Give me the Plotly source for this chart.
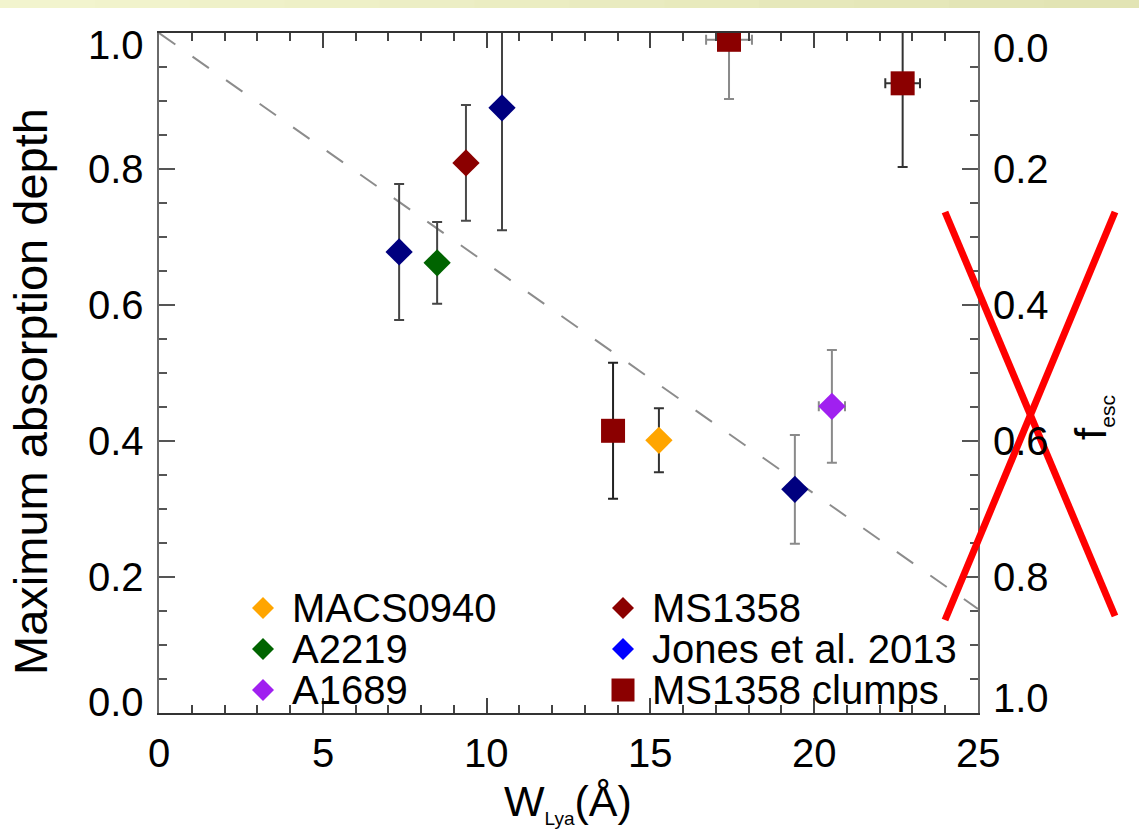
import plotly.graph_objects as go

# ---------------------------------------------------------------------
# Data: Lya equivalent width (Angstrom) vs. maximum absorption depth
# ---------------------------------------------------------------------
macs_w, macs_d, macs_err = [15.26], [0.401], [0.047]
a2219_w, a2219_d, a2219_err = [8.49], [0.662], [0.060]
a1689_w, a1689_d, a1689_err, a1689_werr = [20.54], [0.451], [0.083], [0.40]
ms1358_w, ms1358_d, ms1358_err = [9.37], [0.809], [0.085]
jones_w = [7.33, 10.47, 19.41]
jones_d = [0.678, 0.890, 0.329]
jones_err = [0.100, 0.180, 0.080]
clump_w = [13.86, 17.40, 22.70]
clump_d = [0.415, 0.990, 0.926]
clump_err = [0.100, 0.087, 0.123]
clump_werr = [0.0, 0.70, 0.53]

# dashed reference relation
fit_w = [0, 25]
fit_d = [1.0, 0.153]

# axis tick labels
x_ticks = [0, 5, 10, 15, 20, 25]
y_ticks = [0.0, 0.2, 0.4, 0.6, 0.8, 1.0]
fesc_ticks = [0.0, 0.2, 0.4, 0.6, 0.8, 1.0]

# ---------------------------------------------------------------------
# Layout geometry (pixels)
# ---------------------------------------------------------------------
FIG_W, FIG_H = 1139, 840
L, R, T, B = 159, 161, 33, 127
PW, PH = FIG_W - L - R, FIG_H - T - B
FONT = "Liberation Sans, Arial, Helvetica, sans-serif"


def px(x):
    return (x - L) / PW


def py(y):
    return 1 - (y - T) / PH


groups = [
    # name, w, d, err, werr, symbol, marker colour, legend colour, error colours
    ("MACS0940", macs_w, macs_d, macs_err, None, "diamond", "#FFA500", "#FFA500", ["#333333"]),
    ("A2219", a2219_w, a2219_d, a2219_err, None, "diamond", "#006400", "#006400", ["#444444"]),
    ("A1689", a1689_w, a1689_d, a1689_err, a1689_werr, "diamond", "#A020F0", "#A020F0", ["#8a8a8a"]),
    ("MS1358", ms1358_w, ms1358_d, ms1358_err, None, "diamond", "#8B0000", "#8B0000", ["#4a4a4a"]),
    ("Jones et al. 2013", jones_w, jones_d, jones_err, None, "diamond", "#00007F", "#0000FF",
     ["#444444", "#444444", "#8a8a8a"]),
    ("MS1358 clumps", clump_w, clump_d, clump_err, clump_werr, "square", "#8B0000", "#8B0000",
     ["#222222", "#8a8a8a", "#333333"]),
]

fig = go.Figure()

# dashed relation
fig.add_trace(go.Scatter(
    x=fit_w, y=fit_d, mode="lines",
    line=dict(color="#8c8c8c", width=2, dash="20px,21px"),
    hoverinfo="skip", showlegend=False,
))

# data points, one trace per point so each error bar keeps its own shade
for name, ws, ds, errs, werrs, sym, col, _, ecols in groups:
    for i in range(len(ws)):
        size = 24 if sym == "square" else 21
        tr = dict(
            x=[ws[i]], y=[ds[i]], mode="markers", name=name,
            marker=dict(symbol=sym, size=size, color=col, line=dict(width=0)),
            error_y=dict(type="data", array=[errs[i]], color=ecols[i],
                         thickness=2, width=5),
            showlegend=False,
        )
        if werrs is not None and werrs[i] > 0:
            tr["error_x"] = dict(type="data", array=[werrs[i]], color=ecols[i],
                                 thickness=2, width=5)
        fig.add_trace(go.Scatter(**tr))

annotations = []
shapes = []

# tick labels
for v in x_ticks:
    annotations.append(dict(x=v, y=0, xref="x", yref="paper", text=str(v),
                            showarrow=False, yshift=-40, xanchor="center",
                            yanchor="middle", font=dict(size=40)))
for v in y_ticks:
    shift = 11 if v == 0 else (-12 if v == 1 else 0)
    annotations.append(dict(x=px(146), y=v, xref="paper", yref="y",
                            text=f"{v:.1f}", showarrow=False, yshift=shift,
                            xanchor="right", yanchor="middle", font=dict(size=40)))
for v in fesc_ticks:
    shift = -15 if v == 0 else (15 if v == 1 else 0)
    annotations.append(dict(x=px(991), y=1 - v, xref="paper", yref="y",
                            text=f"{v:.1f}", showarrow=False, yshift=shift,
                            xanchor="left", yanchor="middle", font=dict(size=40)))

# axis titles
annotations.append(dict(x=px(30), y=py(392), xref="paper", yref="paper",
                        text="Maximum absorption depth", textangle=-90,
                        showarrow=False, xanchor="center", yanchor="middle",
                        font=dict(size=47)))
annotations.append(dict(x=px(568), y=py(803), xref="paper", yref="paper",
                        text="W<sub><span style='font-size:19px'>Lya</span></sub>(Å)",
                        showarrow=False, xanchor="center", yanchor="middle",
                        font=dict(size=43)))
annotations.append(dict(x=px(1092), y=py(418), xref="paper", yref="paper",
                        text="f<sub><span style='font-size:21px'>esc</span></sub>",
                        textangle=-90, showarrow=False, xanchor="center",
                        yanchor="middle", font=dict(size=44)))

# legend, two columns of three entries
leg_cols = [263, 623]
leg_rows = [608, 649, 690]
for k, (name, *_rest) in enumerate(groups):
    sym, lcol = _rest[4], _rest[6]
    cx, cy = leg_cols[k // 3], leg_rows[k % 3]
    if sym == "diamond":
        path = "M -11,0 L 0,11 L 11,0 L 0,-11 Z"
    else:
        path = "M -11.5,-11.5 L 11.5,-11.5 L 11.5,11.5 L -11.5,11.5 Z"
    shapes.append(dict(type="path", xref="paper", yref="paper",
                       xsizemode="pixel", ysizemode="pixel",
                       xanchor=px(cx), yanchor=py(cy), path=path,
                       fillcolor=lcol, line=dict(width=0), layer="above"))
    annotations.append(dict(x=px(cx + 27), y=py(cy), xref="paper", yref="paper",
                            text=name, showarrow=False, xanchor="left",
                            yanchor="middle", font=dict(size=40)))

# pale banner strip along the top edge
n_band = 12
c0, c1 = (242, 244, 206), (226, 228, 180)
for i in range(n_band):
    t = i / (n_band - 1)
    rgb = tuple(round(a + (b - a) * t) for a, b in zip(c0, c1))
    shapes.append(dict(type="rect", xref="paper", yref="paper",
                       x0=px(i * FIG_W / n_band), x1=px((i + 1) * FIG_W / n_band + 1),
                       y0=py(8), y1=py(0), fillcolor=f"rgb{rgb}",
                       line=dict(width=0), layer="below"))

# red cross over the right-hand axis
for (xa, ya), (xb, yb) in [((945, 212), (1115, 616)), ((1115, 212), (945, 620))]:
    shapes.append(dict(type="line", xref="paper", yref="paper",
                       x0=px(xa), y0=py(ya), x1=px(xb), y1=py(yb),
                       line=dict(color="#FF0000", width=7), layer="above"))

axis_common = dict(
    showgrid=False, zeroline=False, showticklabels=False,
    ticks="inside", mirror="ticks", showline=True,
)
fig.update_layout(
    width=FIG_W, height=FIG_H,
    margin=dict(l=L, r=R, t=T, b=B),
    paper_bgcolor="white", plot_bgcolor="white",
    font=dict(family=FONT, color="black"),
    showlegend=False,
    xaxis=dict(range=[0, 25], tick0=0, dtick=5, ticklen=15, tickwidth=1.5,
               tickcolor="#444444", linecolor="#333333", linewidth=2,
               minor=dict(dtick=1, ticklen=8, tickwidth=1.5, tickcolor="#444444",
                          ticks="inside", showgrid=False),
               **axis_common),
    yaxis=dict(range=[0, 1], tick0=0, dtick=0.2, ticklen=16, tickwidth=1.5,
               tickcolor="#555555", linecolor="#6a6a6a", linewidth=1.5,
               minor=dict(dtick=0.05, ticklen=8, tickwidth=1.5, tickcolor="#555555",
                          ticks="inside", showgrid=False),
               **axis_common),
    annotations=annotations,
    shapes=shapes,
)

fig.write_html("out.html")
